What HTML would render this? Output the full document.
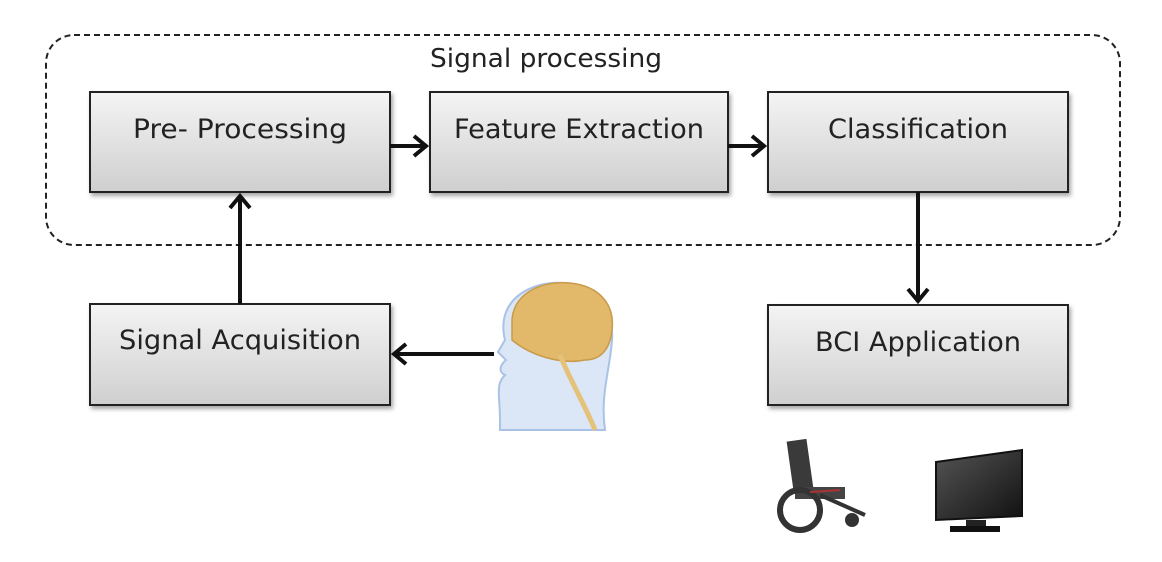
<!DOCTYPE html>
<html><head><meta charset="utf-8"><style>
html,body{margin:0;padding:0;background:#fff;width:1162px;height:562px;overflow:hidden}
text{font-family:"DejaVu Sans","Liberation Sans",sans-serif;fill:#222}
</style></head><body>
<svg width="1162" height="562" viewBox="0 0 1162 562" xmlns="http://www.w3.org/2000/svg">
<defs>
<linearGradient id="g" x1="0" y1="0" x2="0" y2="1">
<stop offset="0" stop-color="#f4f4f4"/><stop offset="1" stop-color="#cfcfcf"/></linearGradient>
<linearGradient id="scr" x1="0" y1="0" x2="1" y2="1">
<stop offset="0" stop-color="#555"/><stop offset="1" stop-color="#111"/></linearGradient>
<filter id="sh" x="-5%" y="-5%" width="110%" height="120%"><feDropShadow dx="2" dy="3" stdDeviation="2" flood-color="#000" flood-opacity="0.35"/></filter>
</defs>
<rect x="46" y="35" width="1074" height="210" rx="28" fill="none" stroke="#222" stroke-width="2" stroke-dasharray="6,4"/>
<text x="546" y="67" font-size="26" text-anchor="middle" textLength="232" lengthAdjust="spacingAndGlyphs">Signal processing</text>
<g stroke="#222" stroke-width="2" fill="url(#g)" filter="url(#sh)">
<rect x="90" y="92" width="300" height="100"/>
<rect x="430" y="92" width="298" height="100"/>
<rect x="768" y="92" width="300" height="100"/>
<rect x="90" y="304" width="300" height="101"/>
<rect x="768" y="305" width="300" height="100"/>
</g>
<g font-size="27" text-anchor="middle">
<text x="240" y="138" textLength="214" lengthAdjust="spacingAndGlyphs">Pre- Processing</text>
<text x="579" y="138" textLength="250" lengthAdjust="spacingAndGlyphs">Feature Extraction</text>
<text x="918" y="138" textLength="180" lengthAdjust="spacingAndGlyphs">Classification</text>
<text x="240" y="349" textLength="242" lengthAdjust="spacingAndGlyphs">Signal Acquisition</text>
<text x="918" y="351" textLength="206" lengthAdjust="spacingAndGlyphs">BCI Application</text>
</g>
<g stroke="#111" stroke-width="4" fill="none">
<line x1="390" y1="146" x2="426" y2="146"/><polyline points="414,136 426,146 414,156"/>
<line x1="728" y1="146" x2="764" y2="146"/><polyline points="752,136 764,146 752,156"/>
<line x1="918" y1="192" x2="918" y2="301"/><polyline points="908,289 918,301 928,289"/>
<line x1="240" y1="304" x2="240" y2="196"/><polyline points="230,208 240,196 250,208"/>
<line x1="494" y1="354" x2="394" y2="354"/><polyline points="406,344 394,354 406,364"/>
</g>
<path d="M500,420 C500,395 495,385 505,375 C498,372 500,365 506,360 L498,352 L505,340 C500,320 505,295 540,285 C580,275 615,300 612,340 C610,370 600,395 605,430 L500,430 Z" fill="#dbe6f6" stroke="#a9c2e6" stroke-width="2"/>
<path d="M512,325 C510,295 540,280 570,283 C600,286 615,305 612,330 C610,350 600,360 585,360 C560,365 530,355 512,340 Z" fill="#e2b86a" stroke="#c99a48" stroke-width="1.5"/>
<path d="M560,355 C570,380 585,405 595,430" stroke="#e5c27a" stroke-width="5" fill="none"/>
<g>
<rect x="790" y="440" width="20" height="50" fill="#3a3a3a" transform="rotate(-8 800 465)"/>
<rect x="795" y="487" width="50" height="12" fill="#444"/>
<circle cx="800" cy="510" r="20" fill="none" stroke="#333" stroke-width="6"/>
<circle cx="852" cy="520" r="7" fill="#333"/>
<line x1="820" y1="495" x2="865" y2="515" stroke="#333" stroke-width="4"/>
<line x1="810" y1="492" x2="840" y2="490" stroke="#a33" stroke-width="2"/>
</g>
<polygon points="936,462 1022,450 1022,516 936,520" fill="url(#scr)" stroke="#111" stroke-width="2"/>
<rect x="966" y="520" width="20" height="6" fill="#222"/>
<rect x="950" y="526" width="50" height="6" fill="#111"/>
</svg>
</body></html>
